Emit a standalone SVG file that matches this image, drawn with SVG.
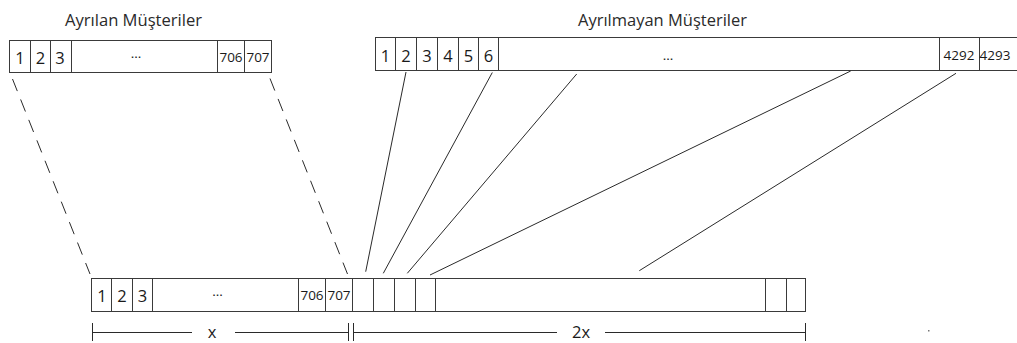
<svg xmlns="http://www.w3.org/2000/svg" width="1017" height="343" viewBox="0 0 1017 343">
<style>
.box{fill:#fff;stroke:#3a3a3a;stroke-width:1}
.div{stroke:#3a3a3a;stroke-width:1}
.t{font-family:"Open Sans","Liberation Sans",sans-serif;fill:#1a1a1a;text-anchor:middle}
.n{font-size:16.5px}
.s{font-size:13.5px}
.title{font-size:16px;fill:#2a2a2a}
.ln{stroke:#2a2a2a;stroke-width:1;fill:none}
.dash{stroke-dasharray:13 9}
</style>
<rect width="1017" height="343" fill="#fff"/>

<g id="title-left"><text class="t title" x="133.5" y="26" textLength="137" lengthAdjust="spacingAndGlyphs">Ayrılan Müşteriler</text></g>
<g id="title-right"><text class="t title" x="662.5" y="26" textLength="169" lengthAdjust="spacingAndGlyphs">Ayrılmayan Müşteriler</text></g>

<g id="ayrilan">
<rect class="box" x="9.5" y="40.5" width="262" height="32"/>
<path class="div" d="M30.5 40.5V72.5M50.5 40.5V72.5M71.5 40.5V72.5M217.5 40.5V72.5M244.5 40.5V72.5"/>
<text class="t n" x="20" y="63.5">1</text>
<text class="t n" x="40.5" y="63.5">2</text>
<text class="t n" x="60" y="63.5">3</text>
<text class="t s" x="136" y="58">...</text>
<text class="t s" x="231" y="62">706</text>
<text class="t s" x="258" y="62">707</text>
</g>

<g id="ayrilmayan">
<rect class="box" x="375.5" y="37.5" width="650" height="33"/>
<path class="div" d="M395.5 37.5V70.5M416.5 37.5V70.5M437.5 37.5V70.5M458.5 37.5V70.5M478.5 37.5V70.5M498.5 37.5V70.5M939.5 37.5V70.5M979.5 37.5V70.5"/>
<text class="t n" x="385.5" y="61.5">1</text>
<text class="t n" x="406" y="61.5">2</text>
<text class="t n" x="427" y="61.5">3</text>
<text class="t n" x="448" y="61.5">4</text>
<text class="t n" x="468.5" y="61.5">5</text>
<text class="t n" x="488.5" y="61.5">6</text>
<text class="t s" x="668" y="60">...</text>
<text class="t s" x="959" y="60">4292</text>
<text class="t s" x="995" y="60">4293</text>
</g>

<g id="birlesik">
<rect class="box" x="91.5" y="278.5" width="714" height="33"/>
<path class="div" d="M111.5 278.5V311.5M132.5 278.5V311.5M152.5 278.5V311.5M298.5 278.5V311.5M325.5 278.5V311.5M352.5 278.5V311.5M373.5 278.5V311.5M394.5 278.5V311.5M415.5 278.5V311.5M435.5 278.5V311.5M765.5 278.5V311.5M786.5 278.5V311.5"/>
<text class="t n" x="102" y="301.5">1</text>
<text class="t n" x="122" y="301.5">2</text>
<text class="t n" x="142.5" y="301.5">3</text>
<text class="t s" x="217.5" y="296">...</text>
<text class="t s" x="312" y="300">706</text>
<text class="t s" x="339" y="300">707</text>
</g>

<g id="connectors">
<line class="ln dash" x1="12.5" y1="79" x2="90" y2="274"/>
<line class="ln dash" x1="270" y1="78.5" x2="347.5" y2="274"/>
<line class="ln" x1="406" y1="72" x2="365.7" y2="271.7"/>
<line class="ln" x1="492.3" y1="72.5" x2="383.3" y2="273.3"/>
<line class="ln" x1="576.7" y1="74" x2="407.3" y2="273.3"/>
<line class="ln" x1="850.7" y1="71" x2="430" y2="275"/>
<line class="ln" x1="956" y1="73.3" x2="639.3" y2="270.7"/>
</g>

<g id="olcu">
<path class="ln" d="M92.5 323V341M348.5 323V341M353.5 323V341M805.5 323V341"/>
<path class="ln" d="M92.5 332.5H192M235 332.5H348.5M353.5 332.5H557M605 332.5H805.5"/>
<text class="t n" x="212" y="338">x</text>
<text class="t n" x="581" y="338">2x</text>
<rect x="928" y="330" width="1.5" height="1.5" fill="#777"/>
</g>
</svg>
